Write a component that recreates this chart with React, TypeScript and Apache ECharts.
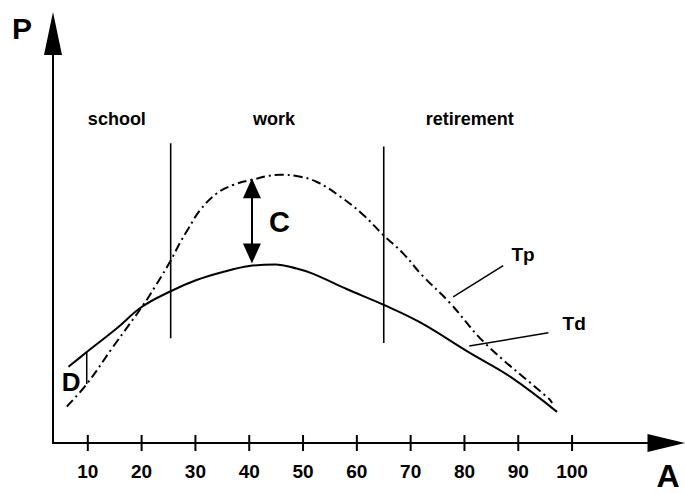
import React, { useEffect, useRef } from "react";
import * as echarts from "echarts";

// Age axis tick labels
const xTicks = [10, 20, 30, 40, 50, 60, 70, 80, 90, 100];

// Td (solid curve) : [age, P]
const tdPoints: number[][] = [
  [6.4, 18.6], [9.8, 22.2], [12.3, 24.8], [15.4, 28.0], [20.0, 33.2],
  [25.3, 37.0], [30.2, 39.8], [35.2, 41.8], [40.0, 43.2], [44.8, 43.6],
  [48.8, 42.6], [51.9, 41.3], [58.1, 37.6], [64.9, 33.8],
  [71.7, 29.5], [81.0, 22.0], [88.5, 16.2], [97.2, 7.6],
];

// Tp (dash-dot curve) : [age, P]
const tpPoints: number[][] = [
  [6.1, 8.9], [9.8, 14.4], [14.7, 23.5], [20.3, 33.7], [22.5, 38.2],
  [25.3, 44.3], [27.1, 48.8], [28.7, 52.4], [30.9, 56.9], [34.0, 61.0],
  [37.0, 63.0], [40.2, 64.2], [45.7, 65.5], [48.8, 65.2], [52.5, 63.8],
  [56.9, 60.2], [61.2, 55.7], [64.9, 50.8], [68.6, 46.3], [72.1, 41.0],
  [77.3, 34.2], [83.8, 24.4], [95.6, 10.9], [96.3, 9.8],
];

// Phase boundaries (ages) and their vertical extents
const boundaryAges = [25.4, 65.0];
const boundaryTops = [73.2, 72.4];
const boundaryBottoms = [25.6, 24.4];

// Phase labels
const phaseNames = ["school", "work", "retirement"];
const phaseAges = [15.4, 44.6, 81.0];
const phaseLevel = 79.0;

// Gap C (double arrow between curves) and gap D
const gapCAge = 40.5;
const gapCRange = [62.2, 46.3];
const gapDAge = 9.8;
const gapDRange = [22.2, 14.4];

// Curve name labels and their leader lines
const curveNames = ["Tp", "Td"];
const curveLabelPos = [[90.9, 46.1], [100.4, 29.1]];
const leaderTp = [[77.9, 35.7], [87.2, 43.3]];
const leaderTd = [[80.9, 23.7], [95.6, 26.9]];

const FONT = '"Liberation Sans", Arial, Helvetica, sans-serif';

export default function App() {
  const ref = useRef<HTMLDivElement>(null);
  useEffect(() => {
    if (!ref.current) return;
    document.body.style.margin = "0";
    const chart = echarts.init(ref.current, null, { renderer: "svg" });
    const black = "#000";
    const plainLine = (data: number[][], width: number) => ({
      type: "line",
      data,
      symbol: "none",
      silent: true,
      lineStyle: { color: black, width },
      z: 3,
    });

    const series: any[] = [
      {
        type: "line",
        name: "Td",
        data: tdPoints,
        symbol: "none",
        smooth: 0.4,
        lineStyle: { color: black, width: 2 },
        markLine: {
          silent: true,
          symbol: ["triangle", "triangle"],
          symbolSize: [18, 20],
          label: { show: false },
          lineStyle: { color: black, width: 2, type: "solid" },
          data: [[{ coord: [gapCAge, gapCRange[0]] }, { coord: [gapCAge, gapCRange[1]] }]],
        },
      },
      {
        type: "line",
        name: "Tp",
        data: tpPoints,
        symbol: "none",
        smooth: 0.4,
        lineStyle: { color: black, width: 2, type: [9, 4, 2, 4] },
      },
      ...boundaryAges.map((a, i) =>
        plainLine([[a, boundaryTops[i]], [a, boundaryBottoms[i]]], 1.6)
      ),
      plainLine([[gapDAge, gapDRange[0]], [gapDAge, gapDRange[1]]], 1.5),
      plainLine(leaderTp, 1.5),
      plainLine(leaderTd, 1.5),
      {
        type: "scatter",
        data: xTicks.map((x) => [x, 0]),
        symbol: "rect",
        symbolSize: [2, 16],
        itemStyle: { color: black, opacity: 1 },
        clip: false,
        silent: true,
        z: 5,
      },
      {
        type: "scatter",
        symbolSize: 0,
        silent: true,
        clip: false,
        itemStyle: { color: black, opacity: 1 },
        label: {
          show: true,
          position: "inside",
          color: black,
          opacity: 1,
          fontFamily: FONT,
          fontWeight: "bold",
          fontSize: 18,
          formatter: (p: any) => p.name,
        },
        data: [
          ...phaseNames.map((n, i) => ({ name: n, value: [phaseAges[i], phaseLevel] })),
          ...curveNames.map((n, i) => ({
            name: n,
            value: curveLabelPos[i],
            label: { fontSize: 19 },
          })),
          { name: "C", value: [45.6, 53.9], label: { fontSize: 29 } },
          { name: "D", value: [6.9, 14.9], label: { fontSize: 26 } },
        ],
      },
    ];

    chart.setOption({
      animation: false,
      grid: { left: 53, right: 18.5, top: 33.5, bottom: 50 },
      xAxis: {
        type: "value",
        min: 3.53,
        max: 117.55,
        splitLine: { show: false },
        axisTick: { show: false },
        axisLine: {
          show: true,
          onZero: false,
          symbol: ["none", "triangle"],
          symbolSize: [18, 38],
          lineStyle: { color: black, width: 2 },
        },
        axisLabel: {
          customValues: xTicks,
          color: black,
          fontFamily: FONT,
          fontWeight: "bold",
          fontSize: 19,
          margin: 19,
        },
      },
      yAxis: {
        type: "value",
        min: 0,
        max: 100,
        splitLine: { show: false },
        axisTick: { show: false },
        axisLabel: { show: false },
        axisLine: {
          show: true,
          onZero: false,
          symbol: ["none", "triangle"],
          symbolSize: [18, 43],
          lineStyle: { color: black, width: 2 },
        },
      },
      graphic: [
        {
          type: "text",
          x: 22,
          y: 28,
          style: {
            text: "P",
            font: `bold 30px ${FONT}`,
            fill: black,
            align: "center",
            verticalAlign: "middle",
            textAlign: "center",
            textVerticalAlign: "middle",
          },
        },
        {
          type: "text",
          x: 668,
          y: 476,
          style: {
            text: "A",
            font: `bold 32px ${FONT}`,
            fill: black,
            align: "center",
            verticalAlign: "middle",
            textAlign: "center",
            textVerticalAlign: "middle",
          },
        },
      ],
      series,
    });
    return () => chart.dispose();
  }, []);
  return <div ref={ref} style={{ width: 685, height: 493 }} />;
}
